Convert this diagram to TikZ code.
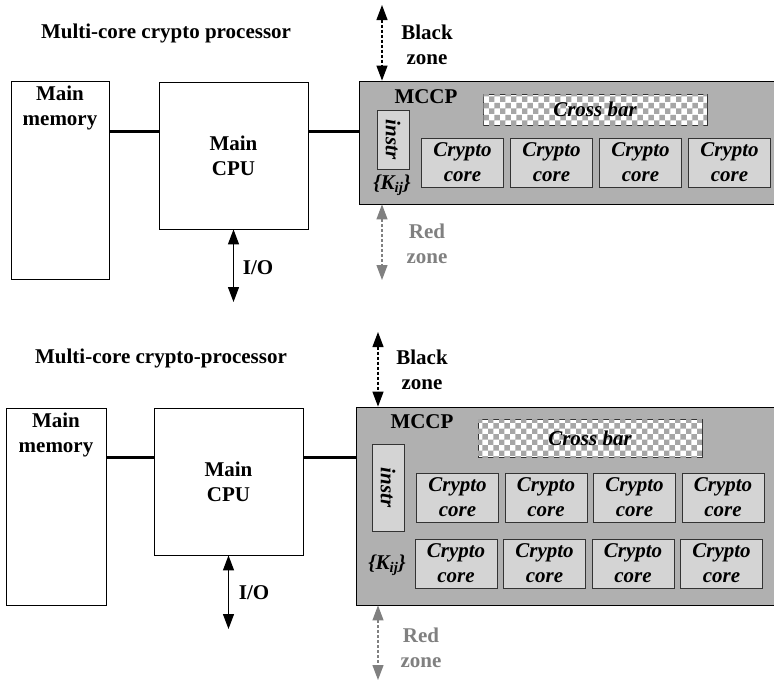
\documentclass[tikz,border=0pt]{standalone}
\usepackage{fontspec}
\setmainfont{Liberation Serif}
\usetikzlibrary{arrows.meta,patterns}
\definecolor{mccpgray}{RGB}{176,176,176}
\definecolor{coregray}{RGB}{212,212,212}
\definecolor{redzone}{RGB}{128,128,128}
\begin{document}
\begin{tikzpicture}[x=1pt, y=-1pt, line width=0.8pt,
        every node/.style = {font=\fontsize{21}{25}\selectfont\bfseries, align=center},
        box/.style = {draw, inner sep=0pt},
        mccp/.style = {draw, fill=mccpgray, inner sep=0pt},
        core/.style = {draw=black!80, fill=coregray, inner sep=0pt, minimum width=82, minimum height=49, font=\fontsize{21}{25}\selectfont\bfseries\itshape},
        instr/.style = {draw=black!80, fill=coregray, inner sep=0pt, minimum width=32, font=\fontsize{21}{25}\selectfont\bfseries\itshape},
        xbar/.style = {draw=black!80, fill=white, inner sep=0pt, minimum width=224, postaction={pattern=checkerboard, pattern color=black!35}, font=\fontsize{21}{25}\selectfont\bfseries\itshape},
        bus/.style = {line width=3pt},
        iobus/.style = {{Triangle[length=15pt,width=11pt]}-{Triangle[length=15pt,width=11pt]}, line width=1.2pt},
        zone/.style = {iobus, dash pattern=on 3pt off 2pt}]
    \useasboundingbox (0,0) rectangle (774,683);
    \clip (0,0) rectangle (774,683);

    % upper picture
    \node (title1) at (166,33) {Multi-core crypto processor};
    \node[box, minimum width=98, minimum height=198,
        label={[anchor=north, yshift=-2pt]north:Main\\memory}] (mem1) at (60,180) {};
    \node[box, minimum width=149, minimum height=147] (cpu1) at (233.5,155.5) {Main\\CPU};
    \node[mccp, minimum width=421, minimum height=123, anchor=west] (mccp1) at (359,142.5) {};
    \node (mccpLbl1) at (426,97) {MCCP};
    \node[xbar, minimum height=31] (xbar1) at (595,109.5) {Cross bar};
    \node[instr, minimum height=59] (instr1) at (393,139.5) {\rotatebox{-90}{instr}};
    \node (key1) at (392,185) {\itshape\{K\textsubscript{ij}\}};
    \foreach \i in {0,...,3}
        \node[core] (coreA\i) at (462.5+89*\i,162.5) {Crypto\\core};

    \coordinate (busA) at (0,131);
    \draw[bus] (mem1.east |- busA) -- (cpu1.west |- busA);
    \draw[bus] (cpu1.east |- busA) -- (mccp1.west |- busA);

    \coordinate (ioA) at (233.5,302);
    \draw[iobus] (cpu1.south) -- (ioA);
    \node (ioLbl1) at (258,268) {I/O};

    \coordinate (blackA) at (382,5);
    \coordinate (redA) at (382,280);
    \draw[zone] (blackA) -- (mccp1.north -| blackA);
    \draw[zone, redzone] (mccp1.south -| redA) -- (redA);
    \node (blackLbl1) at (427,45) {Black\\zone};
    \node[text=redzone] (redLbl1) at (427,244) {Red\\zone};

    % lower picture
    \node (title2) at (161,358) {Multi-core crypto-processor};
    \node[box, minimum width=100, minimum height=197,
        label={[anchor=north, yshift=-2pt]north:Main\\memory}] (mem2) at (56,506.5) {};
    \node[box, minimum width=149, minimum height=147] (cpu2) at (228.5,481.5) {Main\\CPU};
    \node[mccp, minimum width=424, minimum height=198, anchor=west] (mccp2) at (356,506) {};
    \node (mccpLbl2) at (422,422) {MCCP};
    \node[xbar, minimum height=38] (xbar2) at (590,438) {Cross bar};
    \node[instr, minimum height=87] (instr2) at (388,487.5) {\rotatebox{-90}{instr}};
    \node (key2) at (387,565) {\itshape\{K\textsubscript{ij}\}};
    \foreach \i in {0,...,3} {
        \node[core] (coreB\i) at (457.5+88.5*\i,497.5) {Crypto\\core};
        \node[core] (coreC\i) at (456+88.5*\i,563.5) {Crypto\\core};
    }

    \coordinate (busB) at (0,457);
    \draw[bus] (mem2.east |- busB) -- (cpu2.west |- busB);
    \draw[bus] (cpu2.east |- busB) -- (mccp2.west |- busB);

    \coordinate (ioB) at (228.5,629);
    \draw[iobus] (cpu2.south) -- (ioB);
    \node (ioLbl2) at (254,593) {I/O};

    \coordinate (blackB) at (378,332);
    \coordinate (redB) at (378,680);
    \draw[zone] (blackB) -- (mccp2.north -| blackB);
    \draw[zone, redzone] (mccp2.south -| redB) -- (redB);
    \node (blackLbl2) at (422,370) {Black\\zone};
    \node[text=redzone] (redLbl2) at (421,648) {Red\\zone};
\end{tikzpicture}
\end{document}
